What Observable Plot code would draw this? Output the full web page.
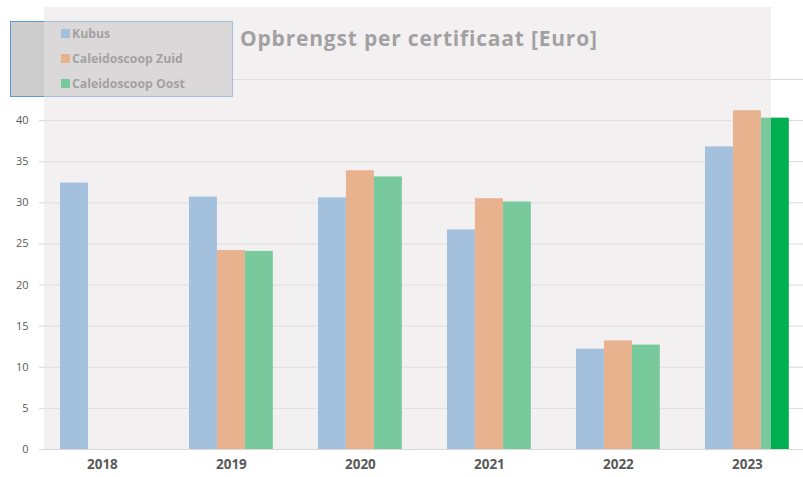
<!DOCTYPE html>
<html>
<head>
<meta charset="utf-8">
<script src="https://cdn.jsdelivr.net/npm/d3@7"></script>
<script src="https://cdn.jsdelivr.net/npm/@observablehq/plot@0.6"></script>
<style>
  html, body { margin: 0; padding: 0; background: #ffffff; }
  #wrap { position: relative; width: 803px; height: 477px; overflow: hidden; font-family: "Open Sans", sans-serif; }
  #chart svg { display: block; }
  #title { position: absolute; left: 240px; top: 28px; font-size: 21px; line-height: 21px; letter-spacing: 0.8px; font-weight: 700; color: #595959; white-space: nowrap; }
  #legend { position: absolute; left: 10px; top: 21px; width: 223px; height: 76px; box-sizing: border-box; background: #cdcdcd; border: 1px solid #5b9bd5; }
  .item { position: absolute; left: 50px; height: 16px; display: flex; align-items: center; font-size: 12.3px; font-weight: 700; color: #595959; white-space: nowrap; }
  .sw { width: 9px; height: 9px; margin-right: 2px; }
  #overlay { position: absolute; left: 44px; top: 7px; width: 727px; height: 442px; background: rgba(231,227,229,0.52); pointer-events: none; }
</style>
</head>
<body>
<div id="wrap">
  <div id="chart"></div>
  <div id="legend"></div>
  <div id="title"></div>
  <div id="overlay"></div>
</div>
<script>
const title = "Opbrengst per certificaat [Euro]";
const years = ["2018", "2019", "2020", "2021", "2022", "2023"];
const series = ["Kubus", "Caleidoscoop Zuid", "Caleidoscoop Oost"];
const colors = ["#5b9bd5", "#ed7d31", "#00b050"];
const kubus = [32.4, 30.7, 30.6, 26.7, 12.2, 36.8];
const zuid = [null, 24.2, 33.9, 30.5, 13.2, 41.2];
const oost = [null, 24.1, 33.15, 30.1, 12.7, 40.3];
const yTicks = [0, 5, 10, 15, 20, 25, 30, 35, 40, 45];

const valuesBySeries = [kubus, zuid, oost];
const data = [];
years.forEach((yr, i) => {
  series.forEach((s, j) => {
    const v = valuesBySeries[j][i];
    if (v != null) data.push({year: yr, series: s, value: v});
  });
});

document.getElementById("title").textContent = title;

const legend = document.getElementById("legend");
series.forEach((s, j) => {
  const it = document.createElement("div");
  it.className = "item";
  it.style.top = (3 + j * 25) + "px";
  const sw = document.createElement("span");
  sw.className = "sw";
  sw.style.background = colors[j];
  const tx = document.createElement("span");
  tx.textContent = s;
  it.appendChild(sw);
  it.appendChild(tx);
  legend.appendChild(it);
});

const fxRange = [37.4, 811.4];
const pad = 0.35;
const gapHalf = (fxRange[1] - fxRange[0]) / years.length * pad / 2; // half of the inter-group gap

const chart = Plot.plot({
  width: 803,
  height: 477,
  marginLeft: 39,
  marginRight: 0,
  marginTop: 79,
  marginBottom: 28,
  style: {background: "#ffffff", fontFamily: "Open Sans, sans-serif", overflow: "hidden"},
  fx: {domain: years, range: fxRange, paddingInner: pad, paddingOuter: pad / 2, round: false, label: null},
  x: {domain: series, padding: 0, round: false, axis: null},
  y: {domain: [0, 45], axis: null},
  color: {domain: series, range: colors},
  marks: [
    Plot.ruleY(yTicks, {y: d => d, stroke: "#d9d9d9", strokeWidth: 1, insetLeft: -(gapHalf - 1.6), insetRight: -(gapHalf + 2)}),
    Plot.axisY(yTicks.filter(t => t < 45), {dx: -(gapHalf - 1.6), tickSize: 0, tickPadding: 11, fill: "#595959", fontSize: 11, label: null}),
    Plot.barY(data, {fx: "year", x: "series", y: "value", fill: "series"}),
    Plot.axisFx({anchor: "bottom", tickSize: 0, tickPadding: 10, fontSize: 13.5, fontWeight: "bold", fill: "#595959", label: null})
  ]
});
document.getElementById("chart").appendChild(chart);
</script>
</body>
</html>
